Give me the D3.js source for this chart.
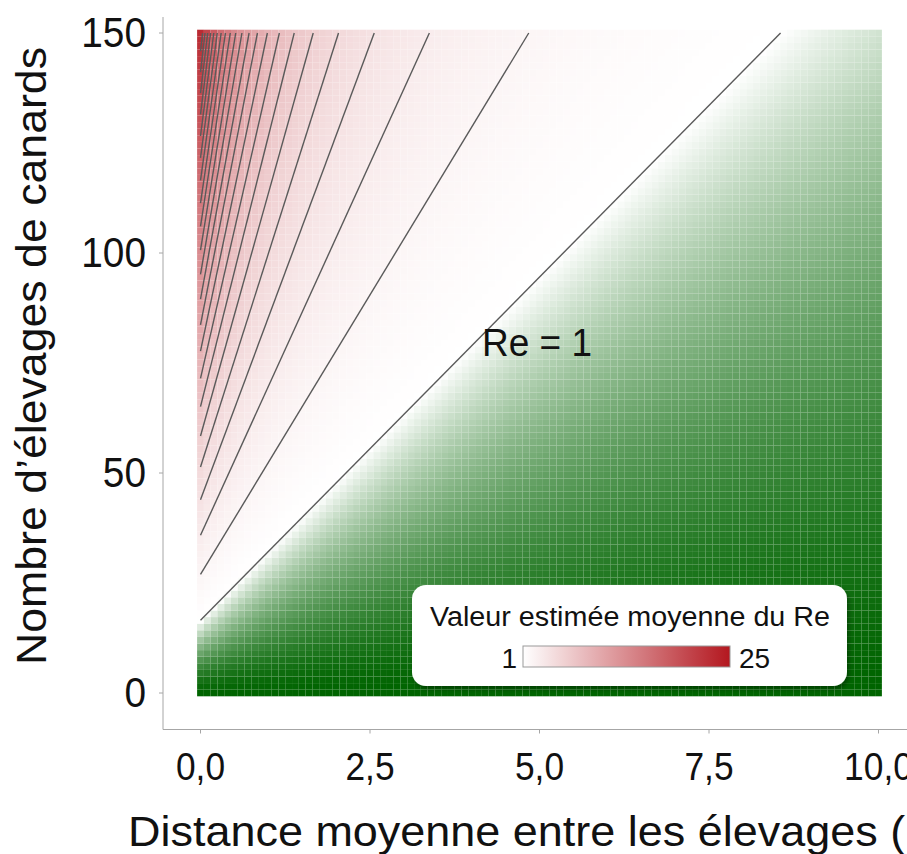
<!DOCTYPE html>
<html><head><meta charset="utf-8">
<script src="https://cdn.jsdelivr.net/npm/d3@7"></script>
<style>html,body{margin:0;padding:0;background:#fff;overflow:hidden}svg{display:block}text{font-family:"Liberation Sans",Arial,sans-serif}</style>
</head><body>
<script>
// ---- data ----
const xValues = d3.range(0, 10.0001, 0.1);      // distance grid (km)
const yValues = d3.range(0, 150.001, 1.5);      // number of farms grid
const xTicks = [0, 2.5, 5, 7.5, 10];
const yTicks = [0, 50, 100, 150];
const contourLevels = d3.range(1, 26);          // Re iso-lines 1..25
const legendRange = [1, 25];
// Re surface parameters estimated from the contour lines in the picture
const X0 = 1.06;   // all iso-lines meet at distance = -X0, farms = 0
const S1 = 15.6;   // slope (farms per km) of the Re = 1 line
const P = 1.42;    // exponent
const reAt = (x, y) => Math.pow(y / (x + X0) / S1, P);

const W = 907, H = 854;
const svg = d3.select("body").append("svg").attr("width", W).attr("height", H);

const x = d3.scaleLinear().domain([0, 10]).range([200.5, 878.5]);
const y = d3.scaleLinear().domain([0, 150]).range([693, 33]);

const red = d3.scaleLinear().domain(legendRange).range(["#ffffff", "#b3171f"]).interpolate(d3.interpolateRgb).clamp(true);
const green = d3.scaleLinear().domain([0, 1]).range(["#006400", "#ffffff"]).clamp(true);
const color = v => v >= 1 ? red(v) : green(v);

// heatmap tiles
const dx = 0.1, dy = 1.5;
const cells = [];
xValues.forEach(xv => yValues.forEach(yv => cells.push({x: xv, y: yv, re: reAt(xv, yv)})));
const cw = x(dx) - x(0), ch = y(0) - y(dy);
svg.append("g").selectAll("rect").data(cells).join("rect")
  .attr("x", d => x(d.x) - cw / 2)
  .attr("y", d => y(d.y) - ch / 2)
  .attr("width", cw).attr("height", ch)
  .attr("fill", d => color(d.re));

// contour lines
const line = d3.line().x(d => x(d[0])).y(d => y(d[1]));
const lines = contourLevels.map(k => {
  const s = S1 * Math.pow(k, 1 / P);
  const y0 = s * X0;
  if (y0 > 150) return null;
  const yEnd10 = s * (10 + X0);
  const end = yEnd10 <= 150 ? [10, yEnd10] : [150 / s - X0, 150];
  return [[0, y0], end];
}).filter(d => d);
svg.append("g").selectAll("path").data(lines).join("path")
  .attr("d", line).attr("fill", "none").attr("stroke", "#5a5a5a").attr("stroke-width", 1.4);

// axes
const axisColor = "#a6a6a6";
const panelL = 163, panelB = 729.5;
svg.append("line").attr("x1", panelL).attr("x2", panelL).attr("y1", 17).attr("y2", panelB).attr("stroke", axisColor);
svg.append("line").attr("x1", panelL).attr("x2", W).attr("y1", panelB).attr("y2", panelB).attr("stroke", axisColor);
svg.append("g").selectAll("line").data(yTicks).join("line")
  .attr("x1", panelL - 4).attr("x2", panelL).attr("y1", d => y(d)).attr("y2", d => y(d)).attr("stroke", axisColor);
svg.append("g").selectAll("line").data(xTicks).join("line")
  .attr("x1", d => x(d)).attr("x2", d => x(d)).attr("y1", panelB).attr("y2", panelB + 4).attr("stroke", axisColor);
const fmt = d => d3.format(".1f")(d).replace(".", ",");
svg.append("g").selectAll("text").data(yTicks).join("text")
  .attr("transform", d => `translate(146,${y(d) + 14}) scale(0.97,1.05)`).attr("text-anchor", "end")
  .attr("font-size", 40).attr("fill", "#111").text(d => d);
svg.append("g").selectAll("text").data(xTicks).join("text")
  .attr("transform", d => `translate(${x(d)},780) scale(0.93,1.04)`).attr("text-anchor", "middle")
  .attr("font-size", 38).attr("fill", "#111").text(fmt);

// axis titles
svg.append("text").attr("transform", "translate(46,356) rotate(-90)")
  .attr("text-anchor", "middle").attr("font-size", 42).attr("fill", "#111")
  .attr("textLength", 618).attr("lengthAdjust", "spacingAndGlyphs")
  .text("Nombre d\u2019élevages de canards");
svg.append("text").attr("x", 128).attr("y", 846)
  .attr("font-size", 42).attr("fill", "#111")
  .attr("textLength", 852).attr("lengthAdjust", "spacingAndGlyphs")
  .text("Distance moyenne entre les élevages (km)");

// Re = 1 label
svg.append("text").attr("x", 482).attr("y", 356).attr("font-size", 38).attr("fill", "#111")
  .attr("textLength", 110).attr("lengthAdjust", "spacingAndGlyphs")
  .text("Re = 1");

// legend
const defs = svg.append("defs");
const f = defs.append("filter").attr("id", "sh").attr("x", "-10%").attr("y", "-10%").attr("width", "130%").attr("height", "140%");
f.append("feDropShadow").attr("dx", 2).attr("dy", 3).attr("stdDeviation", 2).attr("flood-color", "#000").attr("flood-opacity", 0.35);
svg.append("rect").attr("x", 412).attr("y", 585).attr("width", 435).attr("height", 101).attr("rx", 14)
  .attr("fill", "#fff").attr("filter", "url(#sh)");
svg.append("text").attr("x", 430).attr("y", 626).attr("font-size", 27).attr("fill", "#111")
  .attr("textLength", 400).attr("lengthAdjust", "spacingAndGlyphs")
  .text("Valeur estimée moyenne du Re");
const grad = defs.append("linearGradient").attr("id", "lg");
d3.range(0, 1.001, 0.1).forEach(t => grad.append("stop").attr("offset", t)
  .attr("stop-color", red(legendRange[0] + t * (legendRange[1] - legendRange[0]))));
const lx = d3.scaleLinear().domain(legendRange).range([523, 730]);
svg.append("rect").attr("x", lx(1)).attr("y", 646).attr("width", lx(25) - lx(1)).attr("height", 21)
  .attr("fill", "url(#lg)").attr("stroke", "#999").attr("stroke-width", 1);
svg.append("text").attr("x", lx(1) - 6).attr("y", 668).attr("text-anchor", "end").attr("font-size", 28).attr("fill", "#111").text(legendRange[0]);
svg.append("text").attr("x", lx(25) + 9).attr("y", 668).attr("font-size", 28).attr("fill", "#111").text(legendRange[1]);
</script>
</body></html>
